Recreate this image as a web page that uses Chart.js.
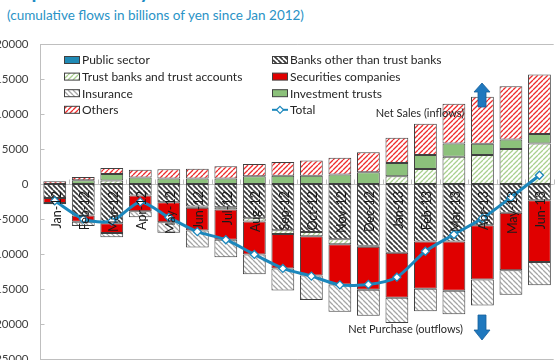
<!DOCTYPE html>
<html>
<head>
<meta charset="utf-8">
<script src="https://cdn.jsdelivr.net/npm/chart.js@4.4.1/dist/chart.umd.min.js"></script>
<style>
  html, body { margin: 0; padding: 0; background: #fff; }
  body { width: 555px; height: 360px; overflow: hidden; position: relative; font-family: Lato, "Open Sans", sans-serif; }
  #title { position: absolute; left: 8px; top: -20px; font-size: 20px; line-height: 20px; font-weight: bold; color: #1E8BC3; white-space: nowrap; }
  #subtitle { position: absolute; left: 7px; top: 8px; font-size: 13.5px; line-height: 14px; color: #2A93C6; white-space: nowrap; }
  #flows { position: absolute; left: -12px; top: 0; }
</style>
</head>
<body>
<div id="title">Capital flows by investor sector</div>
<div id="subtitle">(cumulative flows in billions of yen since Jan 2012)</div>
<canvas id="flows" width="571" height="378"></canvas>
<script>
// ===== DATA (cumulative, billions of yen) =====
const months = ['Jan-12', 'Feb-12', 'Mar-12', 'Apr-12', 'May-12', 'Jun-12', 'Jul-12', 'Aug-12', 'Sep-12',
    'Oct-12', 'Nov-12', 'Dec-12', 'Jan-13', 'Feb-13', 'Mar-13', 'Apr-13', 'May-13', 'Jun-13'];

const publicSector = [0, 0, 0, 0, 0, 0, 0, 0, 0, 0, 0, 0, 0, 0, 0, 0, 0, 0];
const banksOther = [-2000, -4500, -5600, -1650, -2600, -3200, -3300, -4900, -6600, -6850, -7900, -8800, -9800, -8200, -8200, -5900, -4100, -2300];
const trustBanks = [0, 0, 500, 0, 0, -200, -350, -450, -550, -600, -700, -150, 1100, 2150, 3900, 4150, 5000, 5800];
const securities = [-700, -900, -1400, -2250, -2850, -3250, -4300, -4700, -4900, -5600, -5750, -6150, -6450, -6750, -7050, -7750, -8200, -8850];
const insurance = [-200, -600, -600, -850, -1500, -2400, -2500, -2850, -3150, -3500, -3900, -3700, -3600, -3200, -3350, -3700, -3500, -3300];
const investmentTrusts = [0, 550, 950, 950, 800, 800, 800, 1100, 1200, 1200, 1350, 1700, 1900, 2000, 1900, 1600, 1350, 1350];
const others = [400, 450, 850, 1100, 1300, 1400, 1750, 1750, 1950, 2150, 2400, 2850, 3600, 4450, 5650, 6700, 7600, 8500];
const total = [-2400, -5000, -5300, -2550, -4750, -6800, -7950, -10050, -12050, -13150, -14400, -14350, -13300, -9600, -7200, -4900, -1900, 1250];

const yTicks = [20000, 15000, 10000, 5000, 0, -5000, -10000, -15000, -20000, -25000];

const ctx = document.getElementById('flows').getContext('2d');

// ===== HATCH FILLS =====
function makePattern(fg, dir, size, lw) {
    const c = document.createElement('canvas');
    c.width = size;
    c.height = size;
    const g = c.getContext('2d');
    g.fillStyle = '#ffffff';
    g.fillRect(0, 0, size, size);
    g.strokeStyle = fg;
    g.lineWidth = lw;
    g.beginPath();
    for (let k = -size; k <= size; k += size) {
        if (dir === '/') {
            g.moveTo(k, size);
            g.lineTo(k + size, 0);
        } else {
            g.moveTo(k, 0);
            g.lineTo(k + size, size);
        }
    }
    g.stroke();
    return ctx.createPattern(c, 'repeat');
}

const BLUE = '#1B87BC';
const EDGE = '#404040';
const FRAME = '#BFBFBF';

const patBanks = makePattern('#3a3a3a', '\\', 5, 1.7);
const patTrust = makePattern('#A9D08E', '/', 5, 1.3);
const patInsurance = makePattern('#A6A6A6', '\\', 5, 1.3);
const patOthers = makePattern('#EE2B2B', '/', 5, 1.3);

function bar(label, data, fill, border) {
    return {
        type: 'bar', label: label, data: data, stack: 'sectors',
        backgroundColor: fill, borderColor: EDGE,
        borderWidth: border, borderSkipped: false, inflateAmount: 0,
        barPercentage: 0.8, categoryPercentage: 1.0
    };
}

// ===== PLUGINS: frame, month labels, legend, annotations =====
const framePlugin = {
    id: 'frame',
    beforeDatasetsDraw(chart) {
        const a = chart.chartArea;
        const c = chart.ctx;
        const y = chart.scales.y;
        const x = chart.scales.x;
        c.save();
        c.strokeStyle = FRAME;
        c.lineWidth = 1;
        c.beginPath();
        c.moveTo(a.right, Math.round(a.top) + 0.5);
        c.lineTo(a.left, Math.round(a.top) + 0.5);
        c.moveTo(a.left, Math.round(a.bottom) + 0.5);
        c.lineTo(a.right, Math.round(a.bottom) + 0.5);
        // inner tick marks on the value axis
        yTicks.forEach(v => {
            const py = Math.round(y.getPixelForValue(v)) + 0.5;
            c.moveTo(a.left, py);
            c.lineTo(a.left + 4, py);
        });
        // zero line with category boundary marks
        const zero = Math.round(y.getPixelForValue(0)) + 0.5;
        c.moveTo(a.left, zero);
        c.lineTo(a.right, zero);
        const half = (x.getPixelForValue(1) - x.getPixelForValue(0)) / 2;
        for (let i = 0; i < months.length; i++) {
            const px = Math.round(x.getPixelForValue(i) + half) + 0.5;
            c.moveTo(px, zero);
            c.lineTo(px, zero - 5);
        }
        c.stroke();
        c.restore();
    }
};

const monthLabels = {
    id: 'monthLabels',
    afterDatasetsDraw(chart) {
        const c = chart.ctx;
        const x = chart.scales.x;
        const zero = chart.scales.y.getPixelForValue(0);
        c.save();
        c.font = '12.5px Lato';
        c.fillStyle = '#1a1a1a';
        c.textAlign = 'right';
        c.textBaseline = 'middle';
        months.forEach((m, i) => {
            c.save();
            c.translate(x.getPixelForValue(i) + 2, zero + 7);
            c.rotate(-Math.PI / 2);
            c.fillText(m, 0, 0);
            c.restore();
        });
        c.restore();
    }
};

const legendPlugin = {
    id: 'sectorLegend',
    afterDraw(chart) {
        const a = chart.chartArea;
        const c = chart.ctx;
        c.save();
        c.font = '12px Lato';
        c.textBaseline = 'middle';
        chart.data.datasets.forEach((ds, i) => {
            const col = i % 2;
            const row = Math.floor(i / 2);
            const sx = a.left + (col === 0 ? 23.5 : 231.5);
            const sy = a.top + 16 + row * 16.6;
            if (ds.type === 'line') {
                c.strokeStyle = BLUE;
                c.lineWidth = 2;
                c.beginPath();
                c.moveTo(sx, sy);
                c.lineTo(sx + 16, sy);
                c.stroke();
                c.fillStyle = '#fff';
                c.lineWidth = 1.2;
                c.beginPath();
                c.moveTo(sx + 8, sy - 3.5);
                c.lineTo(sx + 11.5, sy);
                c.lineTo(sx + 8, sy + 3.5);
                c.lineTo(sx + 4.5, sy);
                c.closePath();
                c.fill();
                c.stroke();
            } else {
                c.fillStyle = ds.backgroundColor;
                c.fillRect(sx, sy - 3.5, 16, 7);
                c.strokeStyle = EDGE;
                c.lineWidth = 1;
                c.strokeRect(sx + 0.5, sy - 3.5, 15, 7);
            }
            c.fillStyle = '#262626';
            c.fillText(ds.label, sx + 18, sy + 0.5);
        });
        c.restore();
    }
};

function arrow(c, cx, tipY, baseY, tailY) {
    c.beginPath();
    c.moveTo(cx, tipY);
    c.lineTo(cx + 8, baseY);
    c.lineTo(cx + 4, baseY);
    c.lineTo(cx + 4, tailY);
    c.lineTo(cx - 4, tailY);
    c.lineTo(cx - 4, baseY);
    c.lineTo(cx - 8, baseY);
    c.closePath();
    c.fill();
    c.stroke();
}

const notePlugin = {
    id: 'notes',
    afterDraw(chart) {
        const a = chart.chartArea;
        const c = chart.ctx;
        const ox = a.left - 40.5; // page offset of the plot
        c.save();
        c.font = '11px Lato';
        c.fillStyle = '#262626';
        c.textBaseline = 'middle';
        c.textAlign = 'center';
        c.fillText('Net Sales (inflows)', ox + 420, 113);
        c.textAlign = 'right';
        c.fillText('Net Purchase (outflows)', ox + 463, 329);
        c.fillStyle = '#1F78BE';
        c.strokeStyle = '#17609A';
        c.lineWidth = 0.8;
        arrow(c, ox + 482, 83, 92, 107);
        arrow(c, ox + 482, 340, 330, 315);
        c.restore();
    }
};

// ===== CHART =====
new Chart(ctx, {
    data: {
        labels: months,
        datasets: [
            bar('Public sector', publicSector, '#1F8AB5', 0),
            bar('Banks other than trust banks', banksOther, patBanks, 1),
            bar('Trust banks and trust accounts', trustBanks, patTrust, 1),
            bar('Securities companies', securities, '#E00000', 1),
            bar('Insurance', insurance, patInsurance, 1),
            bar('Investment trusts', investmentTrusts, '#8CC17B', 1),
            bar('Others', others, patOthers, 1),
            {
                type: 'line', label: 'Total', data: total, stack: 'total', order: -1,
                borderColor: BLUE, borderWidth: 3, tension: 0.25,
                pointStyle: 'rectRot', pointRadius: 4, pointBackgroundColor: '#fff',
                pointBorderColor: BLUE, pointBorderWidth: 1.3
            }
        ]
    },
    options: {
        responsive: false,
        animation: false,
        devicePixelRatio: 1,
        layout: { padding: { top: 44, bottom: 7, left: 0, right: 0 } },
        plugins: { legend: { display: false }, tooltip: { enabled: false } },
        scales: {
            x: {
                type: 'category',
                display: false,
                offset: true,
                stacked: true
            },
            y: {
                stacked: true,
                min: -25000,
                max: 20000,
                grid: { display: false, drawTicks: false },
                border: { color: FRAME, width: 1 },
                afterFit(scale) { scale.width = 52.5; },
                ticks: {
                    stepSize: 5000, padding: 12,
                    color: '#404040', font: { family: 'Lato', size: 11.5 },
                    callback: v => String(v)
                }
            }
        }
    },
    plugins: [framePlugin, monthLabels, legendPlugin, notePlugin]
});
</script>
</body>
</html>
